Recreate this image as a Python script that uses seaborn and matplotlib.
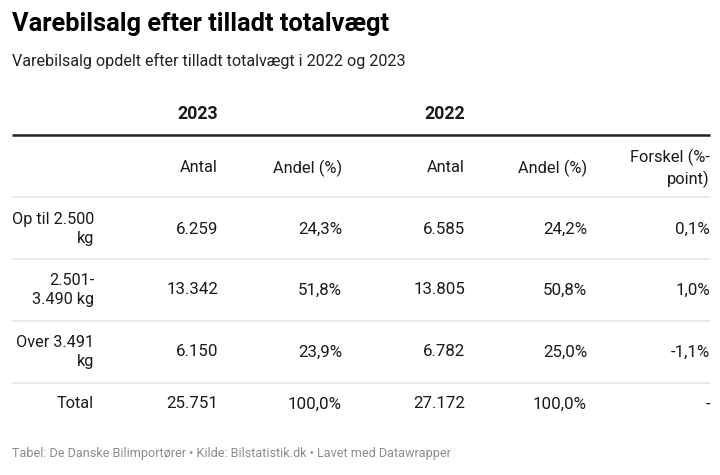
import matplotlib
matplotlib.use("Agg")
import matplotlib.pyplot as plt
import seaborn as sns

# Table data
categories = ["Op til 2.500\nkg", "2.501-\n3.490 kg", "Over 3.491\nkg", "Total"]
antal_2023 = [6259, 13342, 6150, 25751]
andel_2023 = [24.3, 51.8, 23.9, 100.0]
antal_2022 = [6585, 13805, 6782, 27172]
andel_2022 = [24.2, 50.8, 25.0, 100.0]
forskel = [0.1, 1.0, -1.1, None]

years = ["2023", "2022"]
col_headers = ["Antal", "Andel (%)", "Antal", "Andel (%)", "Forskel (%-\npoint)"]

title = "Varebilsalg efter tilladt totalvægt"
subtitle = "Varebilsalg opdelt efter tilladt totalvægt i 2022 og 2023"
footer = "Tabel: De Danske Bilimportører • Kilde: Bilstatistik.dk • Lavet med Datawrapper"


def fmt_int(v):
    return f"{v:,}".replace(",", ".")


def fmt_pct(v):
    if v is None:
        return "-"
    return f"{v:.1f}%".replace(".", ",")


sns.set_theme(style="white")
plt.rcParams["font.family"] = ["Roboto", "DejaVu Sans"]

fig = plt.figure(figsize=(7.2, 4.75), dpi=100)
ax = fig.add_axes([0, 0, 1, 1])
ax.set_xlim(0, 720)
ax.set_ylim(475, 0)
ax.axis("off")

text_col = "#1a1a1a"

# Title block
ax.text(12, 24, title, fontsize=18.3, fontweight="bold", color="#000000", va="center", ha="left")
ax.text(12, 61, subtitle, fontsize=11.6, color="#222222", va="center", ha="left")

# Column right edges
col_x = [94, 218, 342, 465, 587, 710]

# Year header
ax.text(col_x[1], 114, years[0], fontsize=12.8, fontweight="bold", color=text_col, ha="right", va="center")
ax.text(col_x[3], 114, years[1], fontsize=12.8, fontweight="bold", color=text_col, ha="right", va="center")
ax.hlines(135, 12, 710, color="#222222", linewidth=1.8)

# Column headers
for x, h in zip(col_x[1:], col_headers):
    ax.text(x, 168, h, fontsize=11.8, color=text_col, ha="right", va="center", linespacing=1.35)

# Body rows
row_y = [229, 290, 352, 404]
sep_y = [197, 259, 321, 383]
for y in sep_y:
    ax.hlines(y, 12, 710, color="#e6e6e6", linewidth=1.2)

for i, y in enumerate(row_y):
    ax.text(col_x[0], y, categories[i], fontsize=11.7, color=text_col, ha="right", va="center",
            linespacing=1.35, multialignment="right")
    vals = [fmt_int(antal_2023[i]), fmt_pct(andel_2023[i]),
            fmt_int(antal_2022[i]), fmt_pct(andel_2022[i]), fmt_pct(forskel[i])]
    for x, v in zip(col_x[1:], vals):
        ax.text(x, y, v, fontsize=12.2, color=text_col, ha="right", va="center")

# Footer
ax.text(12, 454, footer, fontsize=9.1, color="#8c8c8c", ha="left", va="center")

fig.savefig("out.png", dpi=100)
